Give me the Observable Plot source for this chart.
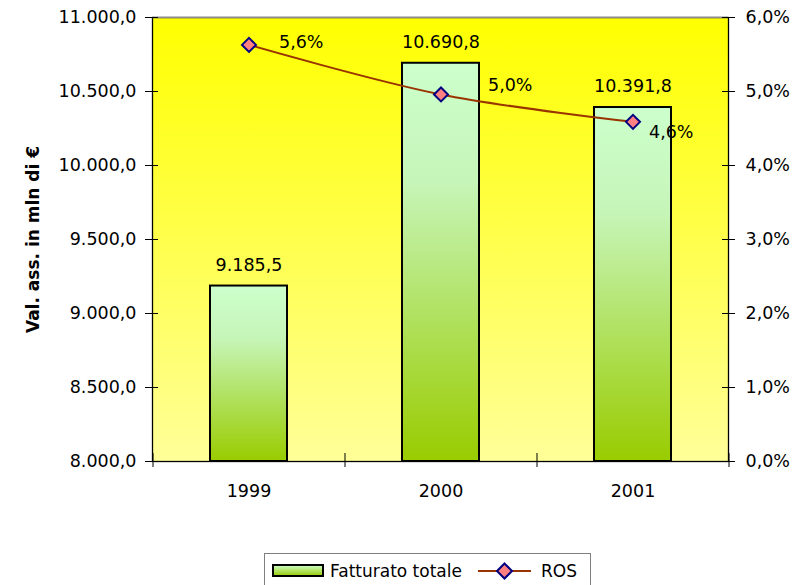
<!DOCTYPE html>
<html><head><meta charset="utf-8">
<script src="https://cdn.jsdelivr.net/npm/d3@7"></script>
<script src="https://cdn.jsdelivr.net/npm/@observablehq/plot@0.6"></script>
<style>
body{margin:0;background:#fff;font-family:"DejaVu Sans";}
#wrap{position:relative;width:807px;height:585px;overflow:hidden;background:#fff}
#legend{position:absolute;left:264px;top:553px;width:327px;height:40px;border:1px solid #7f7f7f;box-sizing:border-box;background:#fff;font-family:"DejaVu Sans";font-size:17px;color:#000}
</style></head><body><div id="wrap"></div>
<script>
// ---- data ----
const years = ["1999", "2000", "2001"];
const fatturato = [9185.5, 10690.8, 10391.8];
const ros = [5.63, 4.96, 4.59];
const leftTicks = [8000, 8500, 9000, 9500, 10000, 10500, 11000];
const rightTicks = [0, 1, 2, 3, 4, 5, 6];
const seriesNames = ["Fatturato totale", "ROS"];
const yTitle = "Val. ass. in mln di €";

// ---- layout ----
const W = 807, H = 520, mL = 152, mR = 79, mT = 17, mB = 59;
const plotW = W - mL - mR, plotH = H - mT - mB;
const step = plotW / years.length;
const yDom = [leftTicks[0], leftTicks[leftTicks.length - 1]];
const rDom = [rightTicks[0], rightTicks[rightTicks.length - 1]];
const toLeft = v => yDom[0] + (v - rDom[0]) / (rDom[1] - rDom[0]) * (yDom[1] - yDom[0]);
const toRight = v => rDom[0] + (v - yDom[0]) / (yDom[1] - yDom[0]) * (rDom[1] - rDom[0]);

const loc = d3.formatLocale({decimal: ",", thousands: ".", grouping: [3], currency: ["", "€"]});
const fmtNum = loc.format(",.1f");
const fmtPct = v => loc.format(".1f")(v) + "%";

const data = years.map((y, i) => ({year: y, value: fatturato[i], ros: ros[i], rosY: toLeft(ros[i]), i}));

const rosLabel = (i, dx, dy) => Plot.text(data.filter(d => d.i === i), {
  x: "year", y: "rosY", text: d => fmtPct(d.ros), textAnchor: "start", dx, dy, fill: "black"
});

const svg = Plot.plot({
  width: W, height: H,
  marginLeft: mL, marginRight: mR, marginTop: mT, marginBottom: mB,
  style: {fontFamily: "DejaVu Sans", fontSize: "17.5px", color: "black", background: "transparent", overflow: "visible"},
  x: {type: "band", domain: years, paddingInner: 0.6, paddingOuter: 0.3, label: null},
  y: {domain: yDom, label: null},
  marks: [
    Plot.frame({fill: "url(#bgGrad)"}),
    Plot.barY(data, {x: "year", y1: yDom[0], y2: "value", fill: "url(#barGrad)", stroke: "black", strokeWidth: 2}),
    Plot.frame({stroke: "black", strokeWidth: 1.3}),
    Plot.ruleY([yDom[1]], {stroke: "#8c8c8c", strokeWidth: 1.5}),
    // y ticks crossing axes
    Plot.tickY(leftTicks, {y: d => d, stroke: "black", insetLeft: -7, insetRight: plotW - 6}),
    Plot.tickY(leftTicks, {y: d => d, stroke: "black", insetLeft: plotW - 6, insetRight: -7}),
    // x boundary ticks
    Plot.ruleX(years, {x: d => d, dx: -step / 2, stroke: "black", insetTop: plotH - 8, insetBottom: -6}),
    Plot.ruleX(years.slice(-1), {x: d => d, dx: step / 2, stroke: "black", insetTop: plotH - 8, insetBottom: -6}),
    Plot.axisY({anchor: "left", ticks: leftTicks, tickSize: 0, tickPadding: 16, tickFormat: fmtNum, label: null}),
    Plot.axisY({anchor: "right", ticks: leftTicks, tickSize: 0, tickPadding: 17, tickFormat: v => fmtPct(toRight(v)), label: null}),
    Plot.axisX({anchor: "bottom", tickSize: 0, tickPadding: 23, label: null}),
    Plot.text([yTitle], {frameAnchor: "left", text: d => d, textAnchor: "middle", rotate: -90, dx: -119, fontWeight: "bold", fontSize: 17, fill: "black"}),
    // bar labels
    Plot.text(data, {x: "year", y: "value", text: d => fmtNum(d.value), dy: -21, fill: "black"}),
    // ROS line
    Plot.line(data, {x: "year", y: "rosY", stroke: "#993300", strokeWidth: 2, curve: "catmull-rom"}),
    Plot.dot(data, {x: "year", y: "rosY", symbol: "diamond2", r: 6.3, fill: "#ff8080", stroke: "#000080", strokeWidth: 2}),
    rosLabel(0, 30, -2),
    rosLabel(1, 47, -9),
    rosLabel(2, 16, 11)
  ]
});

// gradients
const NS = "http://www.w3.org/2000/svg";
function grad(id, stops) {
  const g = document.createElementNS(NS, "linearGradient");
  g.setAttribute("id", id);
  g.setAttribute("x1", "0"); g.setAttribute("y1", "0"); g.setAttribute("x2", "0"); g.setAttribute("y2", "1");
  stops.forEach(([o, c]) => {
    const s = document.createElementNS(NS, "stop");
    s.setAttribute("offset", o); s.setAttribute("stop-color", c);
    g.appendChild(s);
  });
  return g;
}
const defs = document.createElementNS(NS, "defs");
defs.appendChild(grad("bgGrad", [["0", "#ffff00"], ["1", "#ffff99"]]));
defs.appendChild(grad("barGrad", [["0", "#ccffcc"], ["0.3", "#c6f5b8"], ["1", "#99cc00"]]));
svg.insertBefore(defs, svg.firstChild);

const wrap = document.getElementById("wrap");
wrap.appendChild(svg);

// legend
const leg = document.createElement("div");
leg.id = "legend";
leg.innerHTML = `<svg width="325" height="38" style="position:absolute;left:0;top:0;overflow:visible">
  <defs><linearGradient id="lg2" x1="0" y1="0" x2="0" y2="1"><stop offset="0" stop-color="#ccffcc"/><stop offset="1" stop-color="#99cc00"/></linearGradient></defs>
  <rect x="8" y="11" width="50" height="11" fill="url(#lg2)" stroke="black" stroke-width="2"/>
  <text x="65" y="17" dy="0.35em" font-size="17" font-family="DejaVu Sans">${seriesNames[0]}</text>
  <line x1="213" x2="266" y1="17" y2="17" stroke="#993300" stroke-width="2"/>
  <path d="M239.5,9.5 L247,17 L239.5,24.5 L232,17 Z" fill="#ff8080" stroke="#000080" stroke-width="2"/>
  <text x="276" y="17" dy="0.35em" font-size="17" font-family="DejaVu Sans">${seriesNames[1]}</text>
</svg>`;
wrap.appendChild(leg);
</script>
</body></html>
